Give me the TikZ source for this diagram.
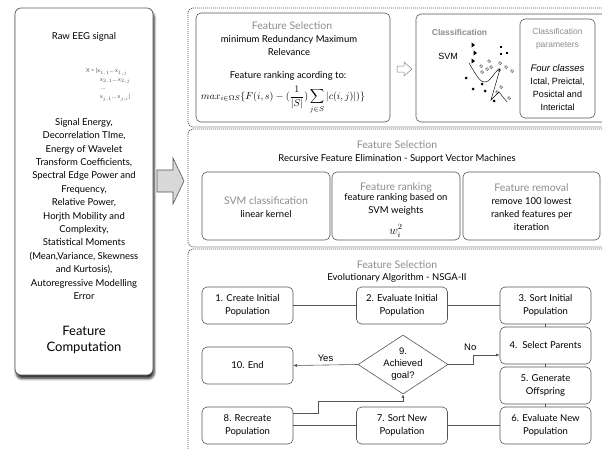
\documentclass[tikz,border=0pt]{standalone}
\usepackage{fontspec}
\usepackage{amsmath}
\setmainfont{Lato}
\newfontfamily\arialfont{Liberation Sans}
\usetikzlibrary{shapes.geometric,shadows.blur,calc,arrows.meta}

\definecolor{hdrgray}{RGB}{140,140,140}
\definecolor{linegray}{RGB}{85,85,85}
\definecolor{arrowfill}{RGB}{216,216,216}

\tikzset{
  panel/.style={draw=linegray, dash pattern=on 1.2pt off 0.8pt, rounded corners=5pt, line width=0.7pt},
  innerbox/.style={draw=linegray, rounded corners=5pt, line width=0.6pt},
  flowbox/.style={draw=linegray, rounded corners=5pt, line width=0.6pt, minimum width=91pt, minimum height=37pt, align=center, inner sep=0pt, font=\fontsize{9.5}{12.5}\selectfont},
  txt/.style={inner sep=0pt, align=center, font=\fontsize{9.5}{13}\selectfont},
  hdr/.style={inner sep=0pt, align=center, text=hdrgray, font=\fontsize{10.5}{13}\selectfont},
  svmtxt/.style={inner sep=0pt, align=center, font=\arialfont\fontsize{8.5}{13}\selectfont},
  flowline/.style={draw=linegray, line width=0.6pt},
  flowarrow/.style={flowline, -{Latex[length=3.5pt,width=3pt]}},
  opendot/.style={draw=black, line width=0.35pt, fill=white},
}

\begin{document}
\begin{tikzpicture}[x=1pt,y=-1pt]
\useasboundingbox (0,0) rectangle (602,448);

%Feature computation panel
\node[draw=linegray, fill=white, rounded corners=6pt, line width=0.7pt, minimum width=138pt, minimum height=367pt, blur shadow={shadow xshift=1.2pt, shadow yshift=-3.5pt, shadow blur steps=6, shadow blur radius=2.5pt, shadow opacity=85}] (fcpanel) at (84,191.5) {};
\node[txt] (rawtitle) at (84,37) {Raw EEG signal};
\begin{scope}[every node/.style={inner sep=0pt, anchor=west, text=gray!70!black, font=\fontsize{5.5}{6}\selectfont}]
\node (mrow1) at (86,72) {X = [x$_{1,1}$\dots\ x$_{1,j}$};
\node (mrow2) at (100,81) {x$_{2,1}$\dots\ x$_{2,j}$};
\node (mrow3) at (101,89) {\dots};
\node (mrow4) at (100,98) {x$_{j,1}$\dots\ x$_{j,i}$]};
\end{scope}
\node[txt, font=\fontsize{9.5}{13.4}\selectfont] (featlist) at (84,209) {Signal Energy,\\Decorrelation TIme,\\Energy of Wavelet\\Transform Coefficients,\\Spectral Edge Power and\\Frequency,\\Relative Power,\\Horjth Mobility and\\Complexity,\\Statistical Moments\\(Mean,Variance, Skewness\\and Kurtosis),\\Autoregressive Modelling\\Error};
\node[txt, font=\fontsize{13}{16}\selectfont] (fctitle) at (84,340) {Feature\\Computation};

%Big arrow
\draw[linegray, fill=arrowfill, line width=0.6pt] (157,170) -- (173,170) -- (173,158) -- (184,181) -- (173,204) -- (173,192) -- (157,192) -- cycle;

%Dashed panels
\draw[panel] (188,8) rectangle (615,127);
\draw[panel] (188,129) rectangle (615,247);
\draw[panel] (188,249) rectangle (615,460);

%mRMR box
\draw[innerbox] (196,13) rectangle (390,122);
\node[hdr] (mrmrhdr) at (292,26) {Feature Selection};
\node[txt] (mrmrname) at (289,45.5) {minimum Redundancy Maximum\\Relevance};
\node[txt] (mrmrrank) at (288,76) {Feature ranking acording to:};
\node[inner sep=0pt] (mrmrform) at (283,100) {$max_{i\in\Omega S}\{F(i,s)-(\dfrac{1}{|S|})\displaystyle\sum_{j\in S}|c(i,j)|)\}$};

%Small arrow
\draw[gray, fill=white, line width=0.5pt] (397,66) -- (404,66) -- (404,62) -- (412,69) -- (404,76) -- (404,72) -- (397,72) -- cycle;

%Classification box
\draw[innerbox] (416,14) rectangle (612,122);
\node[svmtxt, font=\arialfont\bfseries\fontsize{8.5}{10}\selectfont, text=hdrgray] (clshdr) at (459.5,32) {Classification};
\node[svmtxt, font=\arialfont\fontsize{9}{10}\selectfont] (svmlbl) at (448,56) {SVM};
%scatter
\foreach \x/\y in {473/45,475/53,473/61}
  \fill (\x-1.5,\y-2.6) -- (\x+2,\y) -- (\x-1.5,\y+2.6) -- cycle;
\foreach \x/\y in {501/47,501/54,507/53}
  \fill (\x-1.3,\y-1.3) rectangle (\x+1.3,\y+1.3);
\foreach \x/\y in {466/78,482/84,473/89,485/91,494/101}
  \fill (\x,\y) circle (1.5);
\foreach \x/\y in {489/61,481/66,487/69,491/67,482/72,500/63,506/67,512/71,499/70,501/87,497/92,509/98}
  \draw[opendot] (\x,\y) circle (1.5);
\draw[line width=0.45pt] (469,63) .. controls (476,75) and (481,84) .. (486,82) .. controls (492,80) and (495,70) .. (500,69) -- (491,100) -- (499,92) -- (507,102);

%Classification parameters
\draw[innerbox] (520,19) rectangle (595,118);
\node[svmtxt, text=hdrgray] (parhdr) at (557.5,38.5) {Classification\\parameters};
\node[svmtxt, font=\arialfont\itshape\fontsize{9.5}{13}\selectfont] (parfour) at (557.5,68) {Four classes};
\node[svmtxt, font=\arialfont\fontsize{9}{13}\selectfont] (parcls) at (557.5,94) {Ictal, Preictal,\\Posictal and\\Interictal};

%RFE panel
\node[hdr] (rfehdr) at (397,145) {Feature Selection};
\node[txt] (rfename) at (397,159) {Recursive Feature Elimination - Support Vector Machines};
\draw[innerbox] (202,172) rectangle (330,240);
\draw[innerbox] (332,172) rectangle (460,240);
\draw[innerbox] (463,172) rectangle (600,240);
\node[hdr] (svmhdr) at (266,201) {SVM classification};
\node[txt] (svmker) at (266,214) {linear kernel};
\node[hdr] (rankhdr) at (396,188) {Feature ranking};
\node[txt] (ranktxt) at (396,204.5) {feature ranking based on\\SVM weights};
\node[inner sep=0pt, font=\fontsize{11.5}{14}\selectfont] (rankw) at (396,231) {$w_i^2$};
\node[hdr] (remhdr) at (531.5,188) {Feature removal};
\node[txt] (remtxt) at (531.5,214) {remove 100 lowest\\ranked features per\\iteration};

%NSGA-II panel
\node[hdr] (eahdr) at (397,265) {Feature Selection};
\node[txt] (eaname) at (397,278) {Evolutionary Algorithm - NSGA-II};

\node[flowbox] (ea1) at (247.5,305.5) {1. Create Initial\\Population};
\node[flowbox] (ea2) at (402,305.5) {2. Evaluate Initial\\Population};
\node[flowbox] (ea3) at (545.5,305.5) {3. Sort Initial\\Population};
\node[flowbox] (ea4) at (545.5,345.5) {4.\ \ Select Parents};
\node[flowbox] (ea5) at (545.5,385.5) {5. Generate\\Offspring};
\node[flowbox] (ea6) at (545.5,425.5) {6. Evaluate New\\Population};
\node[flowbox] (ea7) at (402,425.5) {7. Sort New\\Population};
\node[flowbox] (ea8) at (247.5,425.5) {8. Recreate\\Population};
\node[flowbox] (ea10) at (247.5,365.5) {10. End};
\node[diamond, draw=linegray, line width=0.6pt, minimum width=90pt, minimum height=59pt, inner sep=0pt] (ea9) at (403,364.5) {};
\node[svmtxt, font=\arialfont\fontsize{9.5}{12}\selectfont] (ea9txt) at (ea9) {9.\\Achieved\\goal?};

\draw[flowline] (ea1) -- (ea2);
\draw[flowline] (ea2) -- (ea3);
\draw[flowline] (ea3) -- (ea4);
\draw[flowline] (ea4) -- (ea5);
\draw[flowline] (ea5) -- (ea6);
\draw[flowline] (ea6) -- (ea7);
\draw[flowline] (ea7) -- (ea8);
\draw[flowarrow] (ea9.west) -- node[txt, above=3pt, font=\arialfont\fontsize{9.5}{11}\selectfont] {Yes} (ea10.east);
\draw[flowarrow] (ea9.east) -- ++(25,0) |- node[pos=0.5, above=4pt, xshift=-3pt, txt, font=\arialfont\fontsize{9.5}{11}\selectfont] {No} ([yshift=-9.5pt]ea4.west);
\draw[flowarrow] ([yshift=12.5pt]ea8.east) -- ++(25,0) |- ($(ea9.south)+(0,7)$) -- (ea9.south);

\end{tikzpicture}
\end{document}
